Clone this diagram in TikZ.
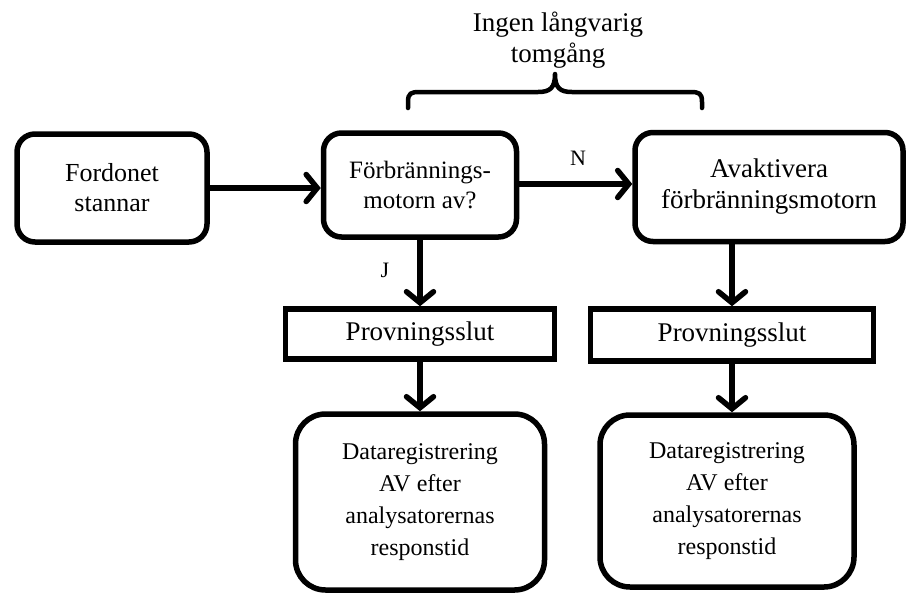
\documentclass[tikz,border=0pt]{standalone}
\usepackage{fontspec}
\setmainfont{Liberation Serif}
\usetikzlibrary{arrows.meta}
\begin{document}
\begin{tikzpicture}[x=1pt,y=-1pt,
  box/.style={draw, line width=5.5pt, rounded corners=18pt, align=center,
    inner sep=0pt, font=\fontsize{25}{30}\selectfont},
  databox/.style={box, rounded corners=30pt, font=\fontsize{24}{32}\selectfont},
  endbox/.style={draw, line width=5.5pt, align=center, inner sep=0pt,
    font=\fontsize{27}{30}\selectfont},
  flow/.style={line width=5.5pt, -{Straight Barb[length=11pt,width=27pt,line cap=round]}},
  lbl/.style={font=\fontsize{22}{26}\selectfont, inner sep=0pt},
  brace/.style={line width=4.5pt, line cap=round, line join=round}]
\useasboundingbox (0,0) rectangle (908,595);

% decision chain
\node[box, minimum width=190pt, minimum height=108pt, font=\fontsize{26}{30}\selectfont] (stop) at (112,188)
  {Fordonet\\stannar};
\node[box, minimum width=193pt, minimum height=104pt] (check) at (420,185)
  {Förbrännings-\\motorn av?};
\node[box, minimum width=268pt, minimum height=109pt, font=\fontsize{27}{31}\selectfont] (deact) at (769,187)
  {Avaktivera\\förbränningsmotorn};

% end of test
\node[endbox, minimum width=269pt, minimum height=50pt] (endL) at (420,334) {Provningsslut};
\node[endbox, minimum width=283pt, minimum height=52pt] (endR) at (732,335) {Provningsslut};

% data logging
\node[databox, minimum width=249pt, minimum height=176pt] (dataL) at (420,502)
  {Dataregistrering\\AV efter\\analysatorernas\\responstid};
\node[databox, minimum width=254pt, minimum height=172pt] (dataR) at (727,501)
  {Dataregistrering\\AV efter\\analysatorernas\\responstid};

% connectors
\draw[flow] (stop.east) -- (stop.east -| check.west);
\draw[flow] (check.east |- 0,184) -- (deact.west |- 0,184);
\draw[flow] (check.south) -- (check.south |- endL.north);
\draw[flow] (endL.south) -- (dataL.north -| endL.south);
\draw[flow] (endR.north |- deact.south) -- (endR.north);
\draw[flow] (endR.south) -- (dataR.north -| endR.south);

\node[lbl] (lblN) at (578,158) {N};
\node[lbl] (lblJ) at (385,270) {J};

% idle-time brace and caption
\draw[brace] (408,108) -- (408,102) .. controls (408,93) and (411,92) .. (420,92)
  -- (538,92) .. controls (550,92) and (555,88) .. (555,74)
  .. controls (555,88) and (560,92) .. (572,92)
  -- (690,92) .. controls (699,92) and (702,93) .. (702,102) -- (702,108);
\node[font=\fontsize{27}{31}\selectfont, align=center, inner sep=0pt] (idle) at (558,40)
  {Ingen långvarig\\tomgång};
\end{tikzpicture}
\end{document}
